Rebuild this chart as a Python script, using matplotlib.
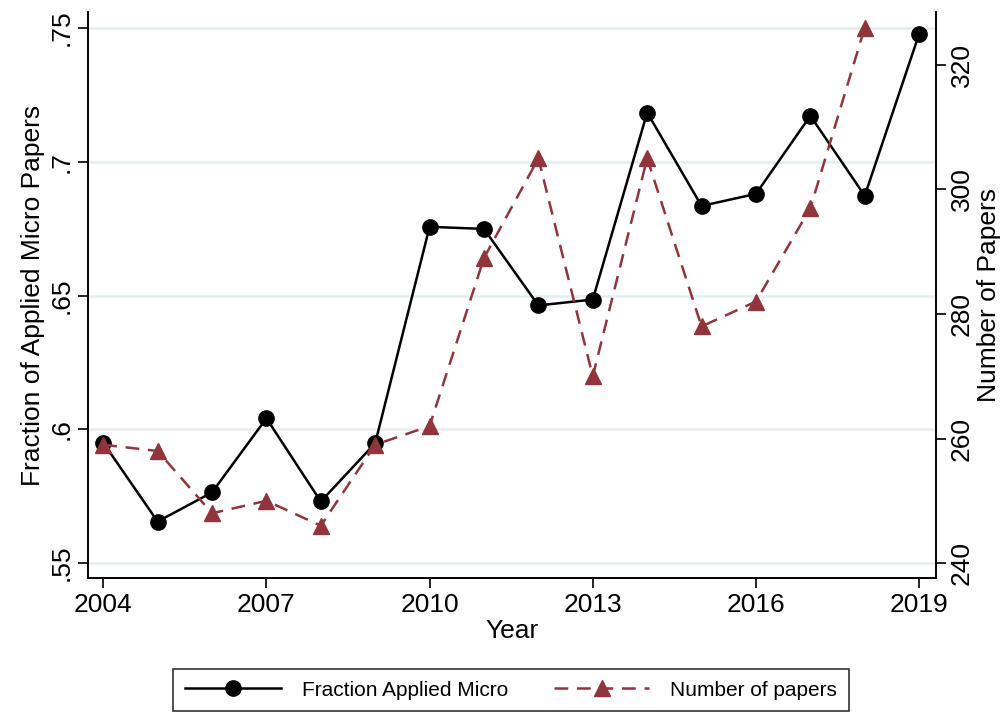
import matplotlib
matplotlib.use('Agg')
import matplotlib.pyplot as plt

# Data
years = [2004, 2005, 2006, 2007, 2008, 2009, 2010, 2011, 2012, 2013, 2014, 2015, 2016, 2017, 2018, 2019]
frac_micro = [0.595, 0.5655, 0.5764, 0.6041, 0.573, 0.5948, 0.6757, 0.6749, 0.6463, 0.6485,
              0.7184, 0.6835, 0.688, 0.7172, 0.6873, 0.7478]
n_papers = [259, 258, 248, 250, 246, 259, 262, 289, 305, 270, 305, 278, 282, 297, 326]
papers_years = years[:-1]

left_ticks = [0.55, 0.6, 0.65, 0.7, 0.75]
left_labels = ['.55', '.6', '.65', '.7', '.75']
right_ticks = [240, 260, 280, 300, 320]
x_ticks = [2004, 2007, 2010, 2013, 2016, 2019]

plt.rcParams['font.family'] = ['Liberation Sans', 'DejaVu Sans']
maroon = '#90353b'
grid_col = '#e4edf0'

fig = plt.figure(figsize=(10.08, 7.15), dpi=100)
ax = fig.add_axes([88 / 1008, 1 - 578 / 715, (936 - 88) / 1008, (578 - 12) / 715])
ax2 = ax.twinx()

# grid from left axis
for t in left_ticks:
    ax.axhline(t, color=grid_col, lw=1.8, zorder=0)

l1, = ax.plot(years, frac_micro, color='black', lw=1.8, marker='o', markersize=11,
              label='Fraction Applied Micro', zorder=3)
l2, = ax2.plot(papers_years, n_papers, color=maroon, lw=1.8, ls=(0, (5.5, 3.5)), marker='^',
               markersize=12, label='Number of papers', zorder=4)

ax.set_xlim(2003.72, 2019.31)
ax.set_ylim(0.5444, 0.756)
ax2.set_ylim(237.6, 328.5)

ax.set_xticks(x_ticks)
ax.set_yticks(left_ticks)
ax.set_yticklabels(left_labels, rotation=90, va='center')
ax2.set_yticks(right_ticks)
ax2.set_yticklabels([str(t) for t in right_ticks], rotation=90, va='center')

for a in (ax, ax2):
    a.spines['top'].set_visible(False)
    for s in a.spines.values():
        s.set_linewidth(1.2)
    a.tick_params(direction='out', length=7, width=1.2, labelsize=19)
ax.tick_params(axis='y', pad=3)
ax2.tick_params(axis='y', pad=3)
ax.tick_params(axis='x', pad=4)

ax.set_xlabel('Year', fontsize=19, labelpad=1)
ax.set_ylabel('Fraction of Applied Micro Papers', fontsize=19, labelpad=4)
ax2.set_ylabel('Number of Papers', fontsize=19, labelpad=2)

leg = fig.legend(handles=[l1, l2], loc='center', bbox_to_anchor=(511 / 1008, 1 - 690 / 715),
                 ncol=2, fontsize=15, frameon=True, fancybox=False, handlelength=4.6,
                 columnspacing=2.2, handletextpad=1.0, borderpad=0.55, edgecolor='black')
leg.get_frame().set_linewidth(1.2)

fig.savefig('out.png', dpi=100)
